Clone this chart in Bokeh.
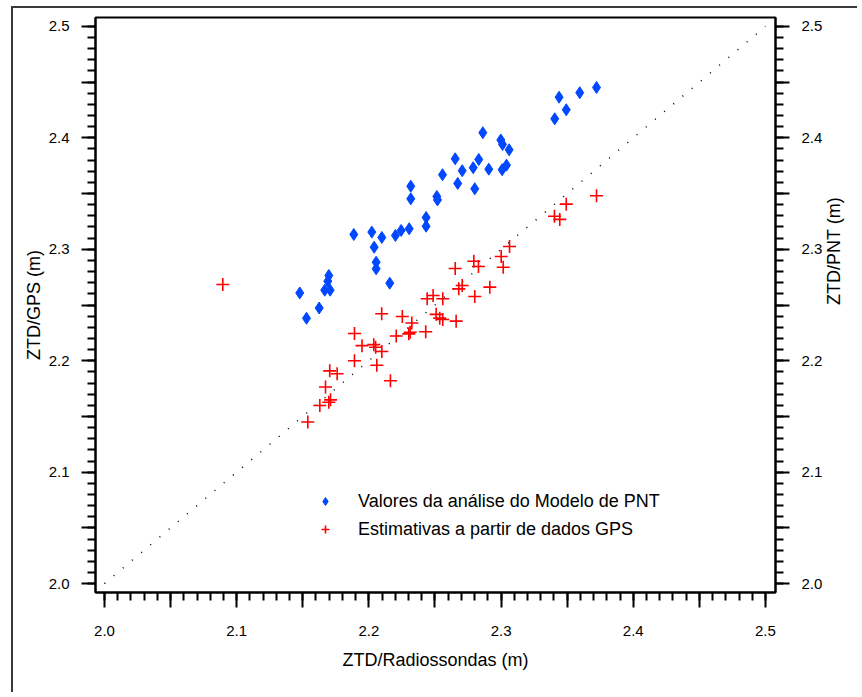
import math
from bokeh.plotting import figure
from bokeh.models import (Range1d, LinearAxis, FixedTicker, CustomJSTickFormatter,
                          Legend, LegendItem)
from bokeh.embed import file_html
from bokeh.resources import INLINE

# ---- data ----
pnt_x = [2.1477, 2.1528, 2.1624, 2.1666, 2.1707, 2.1689, 2.1697, 2.1886, 2.2022, 2.2040,
         2.2055, 2.2055, 2.2098, 2.2158, 2.2201, 2.2244, 2.2305, 2.2317, 2.2317, 2.2433,
         2.2433, 2.2514, 2.2519, 2.2557, 2.2653, 2.2672, 2.2706, 2.2789, 2.2801, 2.2831,
         2.2862, 2.2907, 2.2998, 2.3011, 2.3008, 2.3041, 2.3061, 2.3406, 2.3439, 2.3493,
         2.3595, 2.3722]
pnt_y = [2.2608, 2.2381, 2.2473, 2.2633, 2.2633, 2.2714, 2.2765, 2.3133, 2.3154, 2.3019,
         2.2884, 2.2825, 2.3106, 2.2696, 2.3124, 2.3169, 2.3184, 2.3566, 2.3453, 2.3285,
         2.3207, 2.3474, 2.3443, 2.3669, 2.3812, 2.3591, 2.3705, 2.3732, 2.3543, 2.3806,
         2.4046, 2.3719, 2.3981, 2.3941, 2.3714, 2.3755, 2.3893, 2.4171, 2.4365, 2.4252,
         2.4405, 2.4452]

gps_x = [2.0895, 2.1538, 2.1629, 2.1697, 2.1710, 2.1672, 2.1704, 2.1760, 2.1891, 2.1891,
         2.1948, 2.2037, 2.2051, 2.2098, 2.2060, 2.2163, 2.2097, 2.2207, 2.2253, 2.2325,
         2.2312, 2.2302, 2.2430, 2.2509, 2.2536, 2.2559, 2.2660, 2.2441, 2.2486, 2.2559,
         2.2680, 2.2706, 2.2801, 2.2915, 2.2653, 2.2794, 2.2829, 2.3001, 2.3016, 2.3064,
         2.3404, 2.3444, 2.3493, 2.3722]
gps_y = [2.2684, 2.1450, 2.1598, 2.1627, 2.1649, 2.1764, 2.1909, 2.1883, 2.2244, 2.2000,
         2.2135, 2.2144, 2.2121, 2.2083, 2.1959, 2.1820, 2.2421, 2.2222, 2.2397, 2.2338,
         2.2256, 2.2241, 2.2260, 2.2416, 2.2382, 2.2370, 2.2355, 2.2556, 2.2585, 2.2556,
         2.2645, 2.2675, 2.2576, 2.2660, 2.2828, 2.2893, 2.2846, 2.2935, 2.2839, 2.3025,
         2.3297, 2.3268, 2.3405, 2.3480]

ref_x = [2.0, 2.5]
ref_y = [2.0, 2.5]

tick_values = [2.0, 2.05, 2.1, 2.15, 2.2, 2.25, 2.3, 2.35, 2.4, 2.45, 2.5]
minor_values = [2.0, 2.01, 2.02, 2.03, 2.04, 2.05, 2.06, 2.07, 2.08, 2.09,
                2.1, 2.11, 2.12, 2.13, 2.14, 2.15, 2.16, 2.17, 2.18, 2.19,
                2.2, 2.21, 2.22, 2.23, 2.24, 2.25, 2.26, 2.27, 2.28, 2.29,
                2.3, 2.31, 2.32, 2.33, 2.34, 2.35, 2.36, 2.37, 2.38, 2.39,
                2.4, 2.41, 2.42, 2.43, 2.44, 2.45, 2.46, 2.47, 2.48, 2.49, 2.5]

x_label = "ZTD/Radiossondas (m)"
y_label = "ZTD/GPS (m)"
y2_label = "ZTD/PNT (m)"
leg_pnt = "Valores da análise do Modelo de PNT"
leg_gps = "Estimativas a partir de dados GPS"

FONT = "Liberation Sans"

p = figure(width=846, height=686, output_backend="svg", toolbar_location=None,
           x_range=Range1d(1.9932, 2.5076), y_range=Range1d(1.992, 2.508),
           x_axis_location="below", y_axis_location="left")
p.min_border_left = 82
p.min_border_right = 84
p.min_border_top = 9
p.min_border_bottom = 102
p.background_fill_color = "white"
p.border_fill_color = "white"
p.outline_line_color = "black"
p.outline_line_width = 2
p.grid.visible = False
p.styles = {"margin-left": "11px", "margin-top": "6px",
            "border-left": "2px solid #3a3a3a", "border-top": "2px solid #3a3a3a"}

fmt = CustomJSTickFormatter(code="return Math.abs(tick*10 - Math.round(tick*10)) < 1e-6 ? tick.toFixed(1) : '';")

def style_axis(ax, label, tick_out, standoff, label_standoff):
    ax.ticker = FixedTicker(ticks=tick_values, minor_ticks=minor_values)
    ax.formatter = fmt
    ax.axis_label = label
    ax.axis_label_text_font = FONT
    ax.axis_label_text_font_size = "18px"
    ax.axis_label_text_font_style = "normal"
    ax.axis_label_text_color = "black"
    ax.axis_label_standoff = label_standoff
    ax.major_label_text_font = FONT
    ax.major_label_text_font_size = "15px"
    ax.major_label_text_color = "black"
    ax.major_label_standoff = standoff
    ax.axis_line_color = "black"
    ax.axis_line_width = 2
    ax.major_tick_line_color = "black"
    ax.major_tick_line_width = 2
    ax.minor_tick_line_color = "black"
    ax.minor_tick_line_width = 2
    ax.major_tick_in = 0
    ax.minor_tick_in = 0
    ax.major_tick_out = tick_out
    ax.minor_tick_out = 8

style_axis(p.xaxis[0], x_label, 15, 18, 11)
style_axis(p.yaxis[0], y_label, 14, 12, 2)
right_axis = LinearAxis()
style_axis(right_axis, y2_label, 14, 12, 9)
right_axis.axis_label_orientation = math.pi / 2
p.add_layout(right_axis, "right")

p.line(ref_x, ref_y, line_color="black", line_width=1.5, line_dash="1 11")
r_pnt = p.scatter(pnt_x, pnt_y, marker="diamond", size=12, fill_color="#0048ff",
                  line_color="#0048ff")
r_gps = p.scatter(gps_x, gps_y, marker="cross", size=13, line_color="#ff0000",
                  line_width=1.6)

legend = Legend(items=[LegendItem(label=leg_pnt, renderers=[r_pnt]),
                       LegendItem(label=leg_gps, renderers=[r_gps])],
                location=(220, 49), orientation="vertical")
legend.background_fill_alpha = 0
legend.border_line_alpha = 0
legend.padding = 0
legend.margin = 0
legend.spacing = 0
legend.label_height = 28
legend.glyph_height = 28
legend.glyph_width = 20
legend.label_standoff = 23
legend.label_text_font = FONT
legend.label_text_font_size = "18px"
legend.label_text_color = "black"
p.add_layout(legend, "center")

open("out.html", "w").write(file_html(p, INLINE))
